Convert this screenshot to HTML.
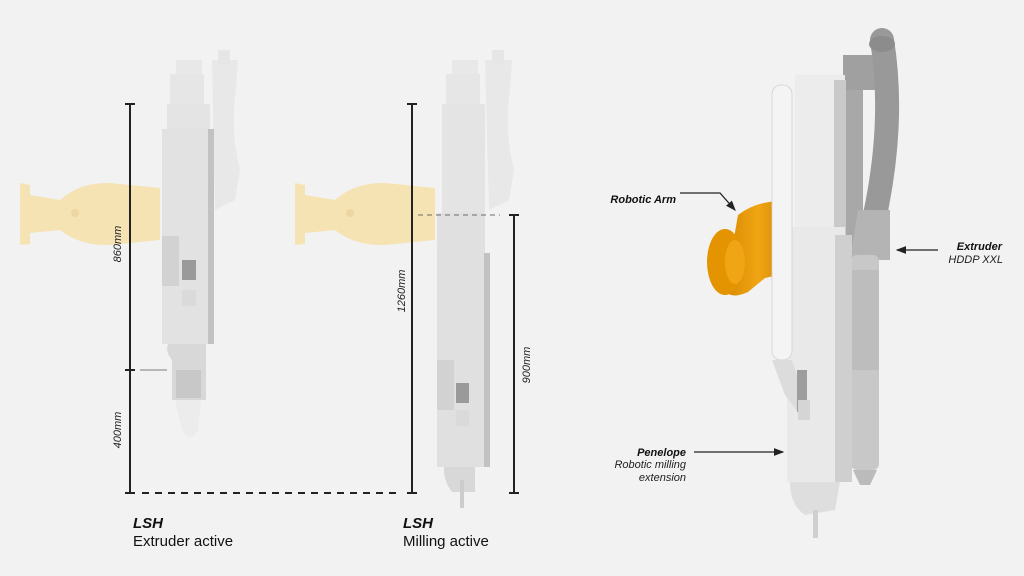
<!DOCTYPE html>
<html><head><meta charset="utf-8"><style>
html,body{margin:0;padding:0;background:#f2f2f2;}
svg{display:block}
text{font-family:"Liberation Sans",sans-serif;}
</style></head><body>
<svg width="1024" height="576" viewBox="0 0 1024 576" xmlns="http://www.w3.org/2000/svg">
<defs>
<marker id="ar" markerWidth="8" markerHeight="8" refX="7" refY="4" orient="auto"><path d="M0,1 L8,4 L0,7 z" fill="#222"/></marker>
<linearGradient id="og" x1="0" x2="1"><stop offset="0" stop-color="#d98a00"/><stop offset="0.5" stop-color="#f0a514"/><stop offset="1" stop-color="#c97f00"/></linearGradient>
</defs>
<rect width="1024" height="576" fill="#f2f2f2"/>

<!-- LEFT DEVICE -->
<g>
 <path d="M20,183 L30,185 L30,195 L60,200 Q80,182 110,183 L160,188 L160,240 L110,245 Q80,246 60,230 L30,233 L30,244 L20,245 z" fill="#f6e3b4"/>
 <circle cx="75" cy="213" r="4" fill="#eed6a0"/>
 <path d="M212,60 L238,60 L236,90 Q230,130 240,170 L235,200 L215,210 z" fill="#e8e8e8"/>
 <rect x="218" y="50" width="12" height="14" fill="#e6e6e6"/>
 <rect x="176" y="60" width="26" height="14" fill="#e8e8e8"/>
 <rect x="170" y="74" width="34" height="30" fill="#e6e6e6"/>
 <rect x="167" y="104" width="43" height="25" fill="#e4e4e4"/>
 <rect x="162" y="129" width="48" height="215" fill="#e2e2e2"/>
 <rect x="208" y="129" width="6" height="215" fill="#c2c2c2"/>
 <rect x="162" y="236" width="17" height="50" fill="#d2d2d2"/>
 <rect x="182" y="260" width="14" height="20" fill="#9a9a9a"/>
 <rect x="182" y="290" width="14" height="16" fill="#dadada"/>
 <path d="M168,344 L206,344 L206,400 L172,400 L172,360 Q165,352 168,344z" fill="#d8d8d8"/>
 <rect x="176" y="370" width="25" height="28" fill="#c8c8c8"/>
 <path d="M175,400 L201,400 L198,430 Q190,445 182,430 z" fill="#ececec"/>
 <line x1="140" y1="370" x2="167" y2="370" stroke="#555" stroke-width="0.8"/>
</g>

<!-- MIDDLE DEVICE -->
<g>
 <path d="M295,183 L305,185 L305,195 L335,200 Q355,182 385,183 L435,188 L435,240 L385,245 Q355,246 335,230 L305,233 L305,244 L295,245 z" fill="#f6e3b4"/>
 <circle cx="350" cy="213" r="4" fill="#eed6a0"/>
 <path d="M485,60 L512,60 L510,90 Q504,130 514,170 L509,200 L489,210 z" fill="#e8e8e8"/>
 <rect x="492" y="50" width="12" height="14" fill="#e6e6e6"/>
 <rect x="452" y="60" width="26" height="14" fill="#e8e8e8"/>
 <rect x="446" y="74" width="34" height="30" fill="#e6e6e6"/>
 <rect x="442" y="104" width="43" height="109" fill="#e4e4e4"/>
 <rect x="437" y="213" width="48" height="254" fill="#e0e0e0"/>
 <rect x="484" y="253" width="6" height="214" fill="#c2c2c2"/>
 <rect x="437" y="360" width="17" height="50" fill="#d2d2d2"/>
 <rect x="456" y="383" width="13" height="20" fill="#9a9a9a"/>
 <rect x="456" y="410" width="13" height="16" fill="#dadada"/>
 <path d="M444,467 L475,467 L475,492 L452,492 Q443,480 444,467z" fill="#d8d8d8"/>
 <rect x="460" y="480" width="4" height="28" fill="#ccc"/>
</g>

<!-- dimension lines -->
<g stroke="#222" stroke-width="2">
 <line x1="130" y1="104" x2="130" y2="493"/>
 <line x1="125" y1="104" x2="135" y2="104"/>
 <line x1="125" y1="370" x2="135" y2="370"/>
 <line x1="125" y1="493" x2="135" y2="493"/>
 <line x1="412" y1="104" x2="412" y2="493"/>
 <line x1="407" y1="104" x2="417" y2="104"/>
 <line x1="407" y1="493" x2="417" y2="493"/>
 <line x1="514" y1="215" x2="514" y2="493"/>
 <line x1="509" y1="215" x2="519" y2="215"/>
 <line x1="509" y1="493" x2="519" y2="493"/>
 <line x1="142" y1="493" x2="402" y2="493" stroke-dasharray="7,6"/>
</g>
<line x1="418" y1="215" x2="500" y2="215" stroke="#444" stroke-width="0.8" stroke-dasharray="5,4"/>
<g font-size="11" font-style="italic" fill="#222">
 <text transform="translate(121,244) rotate(-90)" text-anchor="middle">860mm</text>
 <text transform="translate(121,430) rotate(-90)" text-anchor="middle">400mm</text>
 <text transform="translate(405,291) rotate(-90)" text-anchor="middle">1260mm</text>
 <text transform="translate(530,365) rotate(-90)" text-anchor="middle">900mm</text>
</g>
<text x="133" y="528" font-size="15" font-weight="bold" font-style="italic" fill="#111">LSH</text>
<text x="133" y="546" font-size="15" fill="#111">Extruder active</text>
<text x="403" y="528" font-size="15" font-weight="bold" font-style="italic" fill="#111">LSH</text>
<text x="403" y="546" font-size="15" fill="#111">Milling active</text>

<!-- RIGHT DEVICE -->
<g>
 <path d="M738,215 Q760,198 792,202 L792,272 L765,278 L748,292 Q730,300 725,290 z" fill="url(#og)"/>
 <ellipse cx="725" cy="262" rx="18" ry="33" fill="#e39400"/>
 <ellipse cx="735" cy="262" rx="10" ry="22" fill="#f0a514"/>
 <rect x="843" y="55" width="42" height="35" fill="#a0a0a0"/>
 <path d="M882,40 Q895,120 875,215" fill="none" stroke="#999" stroke-width="24" stroke-linecap="round"/>
 <ellipse cx="882" cy="44" rx="13" ry="8" fill="#8c8c8c"/>
 <rect x="845" y="90" width="18" height="160" fill="#a8a8a8"/>
 <path d="M858,210 L890,210 L890,260 L850,260 z" fill="#b4b4b4"/>
 <rect x="851" y="255" width="28" height="215" rx="6" fill="#c8c8c8"/>
 <rect x="851" y="270" width="28" height="100" fill="#bdbdbd"/>
 <path d="M853,470 L877,470 L870,485 L860,485 z" fill="#bbb"/>
 <rect x="795" y="75" width="50" height="172" fill="#ececec"/>
 <rect x="834" y="80" width="12" height="167" fill="#c9c9c9"/>
 <rect x="787" y="227" width="58" height="255" fill="#e9e9e9"/>
 <rect x="835" y="235" width="17" height="247" fill="#cfcfcf"/>
 <rect x="772" y="85" width="20" height="275" rx="9" fill="#f4f4f4" stroke="#d0d0d0" stroke-width="0.8"/>
 <path d="M772,360 L792,360 L805,400 L800,415 L785,395 z" fill="#dcdcdc"/>
 <rect x="797" y="370" width="10" height="42" fill="#9d9d9d"/>
 <rect x="798" y="400" width="12" height="20" fill="#d5d5d5"/>
 <path d="M790,482 L840,482 L835,510 L805,515 Q790,505 790,482z" fill="#dedede"/>
 <rect x="813" y="510" width="5" height="28" fill="#cfcfcf"/>
</g>

<!-- callouts -->
<polyline points="680,193 720,193 735,210" fill="none" stroke="#222" stroke-width="1.3" marker-end="url(#ar)"/>
<text x="676" y="203" font-size="11" font-weight="bold" font-style="italic" fill="#111" text-anchor="end">Robotic Arm</text>
<line x1="938" y1="250" x2="897" y2="250" stroke="#222" stroke-width="1.3" marker-end="url(#ar)"/>
<text x="1002" y="250" font-size="11" font-weight="bold" font-style="italic" fill="#111" text-anchor="end">Extruder</text>
<text x="1003" y="263" font-size="11" font-style="italic" fill="#222" text-anchor="end">HDDP XXL</text>
<line x1="694" y1="452" x2="783" y2="452" stroke="#222" stroke-width="1.3" marker-end="url(#ar)"/>
<text x="686" y="456" font-size="11" font-weight="bold" font-style="italic" fill="#111" text-anchor="end">Penelope</text>
<text x="686" y="468" font-size="11" font-style="italic" fill="#222" text-anchor="end">Robotic milling</text>
<text x="686" y="481" font-size="11" font-style="italic" fill="#222" text-anchor="end">extension</text>
</svg>
</body></html>
